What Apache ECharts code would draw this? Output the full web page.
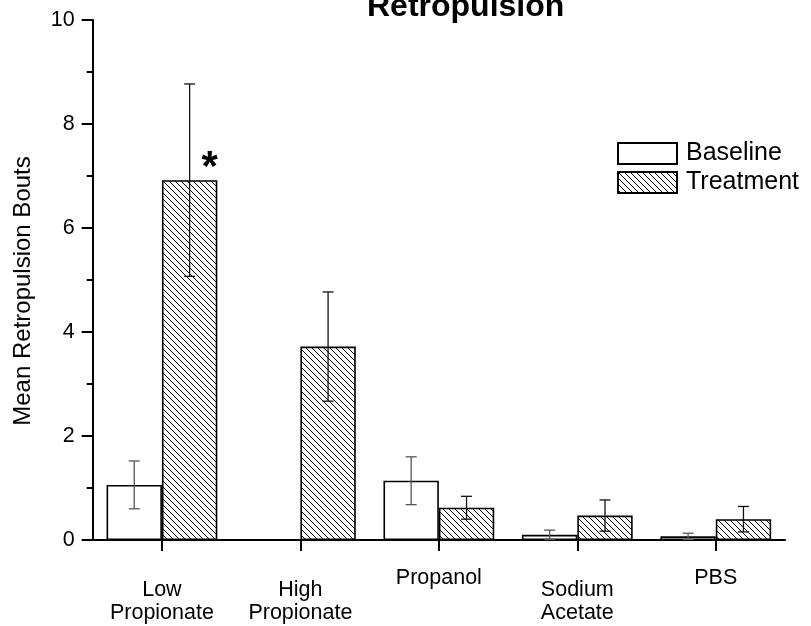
<!DOCTYPE html>
<html>
<head>
<meta charset="utf-8">
<script src="https://cdn.jsdelivr.net/npm/echarts@6/dist/echarts.min.js"></script>
<style>
  html, body { margin: 0; padding: 0; background: #fff; }
  #chart { width: 811px; height: 626px; }
</style>
</head>
<body>
<div id="chart"></div>
<script>
// Retropulsion bouts per treatment group (mean ± error)
const categories = ['Low\nPropionate', 'High\nPropionate', 'Propanol', 'Sodium\nAcetate', 'PBS'];
const baselineMeans = [1.06, 0, 1.14, 0.10, 0.07];
const baselineErrors = [0.46, 0, 0.46, 0.09, 0.06];
const treatmentMeans = [6.92, 3.72, 0.62, 0.47, 0.40];
const treatmentErrors = [1.85, 1.05, 0.22, 0.30, 0.245];
const yTicks = [0, 2, 4, 6, 8, 10];

const FONT = '"Liberation Sans", Arial, Helvetica, sans-serif';
const BAR_RATIO = 0.4; // share of the category band taken by one bar

// Diagonal hatch fill (lines running top-left to bottom-right)
function makeHatch() {
  const s = 6;
  const c = document.createElement('canvas');
  c.width = s; c.height = s;
  const g = c.getContext('2d');
  g.fillStyle = '#fff';
  g.fillRect(0, 0, s, s);
  g.strokeStyle = '#000';
  g.lineWidth = 1;
  for (let k = -1; k <= 1; k++) {
    g.beginPath();
    g.moveTo(0, k * s);
    g.lineTo(s, s + k * s);
    g.stroke();
  }
  return c;
}
const hatch = { image: makeHatch(), repeat: 'repeat' };

// Category labels: two-line names sit a little lower than one-line names
const xData = categories.map(c => ({
  value: c,
  textStyle: c.indexOf('\n') >= 0 ? { padding: [12, 0, 0, 0] } : {}
}));

function errorBars(means, errors, side, color) {
  return {
    type: 'custom',
    z: 5,
    silent: true,
    data: means.map((m, i) => [i, m, errors[i]]),
    renderItem: function (params, api) {
      const i = api.value(0), m = api.value(1), e = api.value(2);
      if (!e) return null;
      const band = api.size([1, 0])[0];
      const off = side * band * BAR_RATIO / 2;
      const top = api.coord([i, m + e]);
      const bot = api.coord([i, Math.max(0, m - e)]);
      const x = top[0] + off;
      const cap = 5.5;
      const style = { stroke: color, lineWidth: 1.3 };
      const children = [
        { type: 'line', shape: { x1: x, y1: top[1], x2: x, y2: bot[1] }, style: style },
        { type: 'line', shape: { x1: x - cap, y1: top[1], x2: x + cap, y2: top[1] }, style: style }
      ];
      if (m - e > 0) {
        children.push({ type: 'line', shape: { x1: x - cap, y1: bot[1], x2: x + cap, y2: bot[1] }, style: style });
      }
      return { type: 'group', children: children };
    }
  };
}

const chart = echarts.init(document.getElementById('chart'), null, { renderer: 'canvas' });

chart.setOption({
  animation: false,
  backgroundColor: '#fff',
  textStyle: { fontFamily: FONT },
  title: {
    text: 'Retropulsion',
    left: 367,
    top: -9,
    padding: 0,
    textStyle: { fontFamily: FONT, fontWeight: 'bold', fontSize: 32, color: '#000' }
  },
  legend: {
    left: 617,
    top: 141,
    orient: 'vertical',
    itemWidth: 59,
    itemHeight: 21,
    itemGap: 4,
    padding: 0,
    icon: 'rect',
    textStyle: { fontFamily: FONT, fontSize: 25, lineHeight: 21, color: '#000', padding: [0, 0, 0, 4] },
    data: ['Baseline', 'Treatment']
  },
  grid: { left: 92.7, right: 26, top: 20, bottom: 86, containLabel: false },
  xAxis: {
    type: 'category',
    data: xData,
    axisLine: { lineStyle: { color: '#000', width: 2 } },
    axisTick: { show: true, alignWithLabel: true, inside: false, length: 11, lineStyle: { color: '#000', width: 2 } },
    axisLabel: {
      interval: 0,
      margin: 27,
      fontFamily: FONT,
      fontSize: 21.5,
      lineHeight: 23,
      color: '#000'
    },
    splitLine: { show: false }
  },
  yAxis: {
    type: 'value',
    min: yTicks[0],
    max: yTicks[yTicks.length - 1],
    interval: 2,
    name: 'Mean Retropulsion Bouts',
    nameLocation: 'middle',
    nameRotate: 90,
    nameGap: 57,
    nameTextStyle: { fontFamily: FONT, fontSize: 24, color: '#000', padding: [0, 22, 0, 0] },
    axisLine: { show: true, lineStyle: { color: '#000', width: 2 } },
    axisTick: { show: true, inside: false, length: 11, lineStyle: { color: '#000', width: 2 } },
    minorTick: { show: true, splitNumber: 2, length: 6, lineStyle: { color: '#000', width: 2 } },
    axisLabel: { margin: 18, fontFamily: FONT, fontSize: 21.5, color: '#000' },
    splitLine: { show: false }
  },
  series: [
    {
      name: 'Baseline',
      type: 'bar',
      barWidth: (BAR_RATIO * 100) + '%',
      barGap: '0%',
      data: baselineMeans,
      itemStyle: { color: '#fff', borderColor: '#000', borderWidth: 1.6 }
    },
    {
      name: 'Treatment',
      type: 'bar',
      barWidth: (BAR_RATIO * 100) + '%',
      barGap: '0%',
      data: treatmentMeans.map((v, i) => i === 0 ? {
        value: v,
        label: {
          show: true,
          formatter: '*',
          position: 'top',
          offset: [20, 14],
          fontFamily: FONT,
          fontWeight: 'bold',
          fontSize: 42,
          color: '#000'
        }
      } : v),
      itemStyle: { color: hatch, borderColor: '#000', borderWidth: 1.6 }
    },
    errorBars(baselineMeans, baselineErrors, -1, '#555'),
    errorBars(treatmentMeans, treatmentErrors, 1, '#111')
  ]
});
</script>
</body>
</html>
